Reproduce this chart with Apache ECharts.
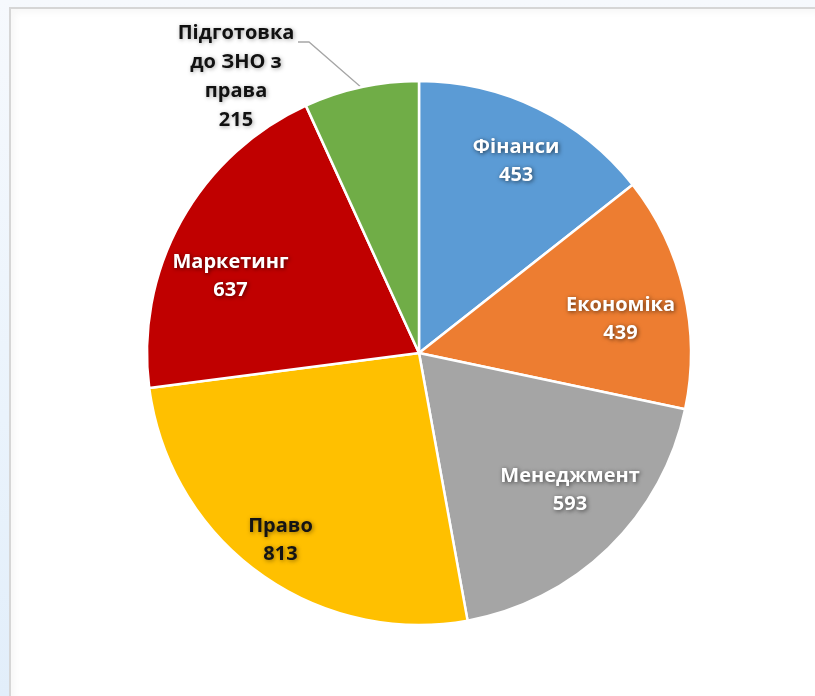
<!DOCTYPE html>
<html>
<head>
<meta charset="utf-8">
<script src="https://cdn.jsdelivr.net/npm/echarts@6/dist/echarts.min.js"></script>
<style>
  html, body { margin: 0; padding: 0; width: 815px; height: 696px; overflow: hidden;
    background: linear-gradient(180deg, #f6f9fd 0%, #eaf3fc 60%, #e2eefa 100%); }
  #frame { position: absolute; left: 9px; top: 7px; right: 0; bottom: 0; background: #ffffff;
    border-left: 2px solid #d6d6d6; border-top: 2px solid #d6d6d6;
    box-shadow: inset 4px 4px 6px rgba(0,0,0,0.03); }
  #chart { position: absolute; left: 0; top: 0; width: 815px; height: 696px; }
</style>
</head>
<body>
<div id="frame"></div>
<div id="chart"></div>
<script>
// ---- data ----
var categories = ['Фінанси', 'Економіка', 'Менеджмент', 'Право', 'Маркетинг', 'Підготовка\nдо ЗНО з\nправа'];
var values = [453, 439, 593, 813, 637, 215];
var colors = ['#5b9bd5', '#ed7d31', '#a5a5a5', '#ffc000', '#c00000', '#70ad47'];

// ---- layout / style ----
var CENTER = [419, 353];
var RADIUS = 272;
var FONT = '"Open Sans", "Noto Sans", sans-serif';
var outsideIndex = 5;
var labelNudge = { 0: [5, -2], 1: [-4, 14], 2: [4, -14], 3: [-14, 17], 4: [-4, 26] };
var darkText = { 3: true };

var baseLabel = {
  fontFamily: FONT, fontWeight: 'bold', fontSize: 20, lineHeight: 28,
  textShadowColor: 'rgba(0,0,0,0.55)', textShadowBlur: 4, textShadowOffsetX: 1, textShadowOffsetY: 1
};

var mainData = categories.map(function (c, i) {
  var item = { name: c, value: values[i], itemStyle: { color: colors[i] } };
  if (i === outsideIndex) {
    item.label = { show: true, position: 'outside', color: '#111111',
      textShadowColor: 'rgba(0,0,0,0.35)', align: 'center', lineHeight: 29,
      formatter: '{b}\n{c}' };
    item.labelLine = { show: true, lineStyle: { color: '#a6a6a6', width: 1.3 } };
  }
  return item;
});

var labelData = categories.map(function (c, i) {
  return { name: c, value: values[i],
    label: { show: i !== outsideIndex, color: darkText[i] ? '#141414' : '#ffffff',
             textShadowColor: darkText[i] ? 'rgba(60,40,0,0.55)' : 'rgba(0,0,0,0.6)' } };
});

var chart = echarts.init(document.getElementById('chart'), null, { renderer: 'canvas' });
chart.setOption({
  animation: false,
  backgroundColor: 'transparent',
  series: [
    {
      type: 'pie', center: CENTER, radius: [0, RADIUS], startAngle: 90, clockwise: true,
      avoidLabelOverlap: false,
      itemStyle: { borderColor: '#ffffff', borderWidth: 2.5 },
      label: Object.assign({ show: false }, baseLabel),
      labelLine: { show: false },
      emphasis: { disabled: true },
      data: mainData,
      labelLayout: function (p) {
        if (p.dataIndex !== outsideIndex) return {};
        var start = p.labelLinePoints ? p.labelLinePoints[0] : [361, 87];
        return { x: 236, y: 77, align: 'center', verticalAlign: 'middle',
                 labelLinePoints: [start, [309, 42], [298, 42]] };
      }
    },
    {
      type: 'pie', center: CENTER, radius: [140, 276], startAngle: 90, clockwise: true,
      silent: true, avoidLabelOverlap: false,
      itemStyle: { color: 'rgba(0,0,0,0)', borderWidth: 0 },
      label: Object.assign({ show: true, position: 'inside', formatter: '{b}\n{c}', align: 'center' }, baseLabel),
      labelLine: { show: false },
      emphasis: { disabled: true },
      data: labelData,
      labelLayout: function (p) {
        var n = labelNudge[p.dataIndex];
        return n ? { dx: n[0], dy: n[1] } : {};
      }
    }
  ]
});
</script>
</body>
</html>
